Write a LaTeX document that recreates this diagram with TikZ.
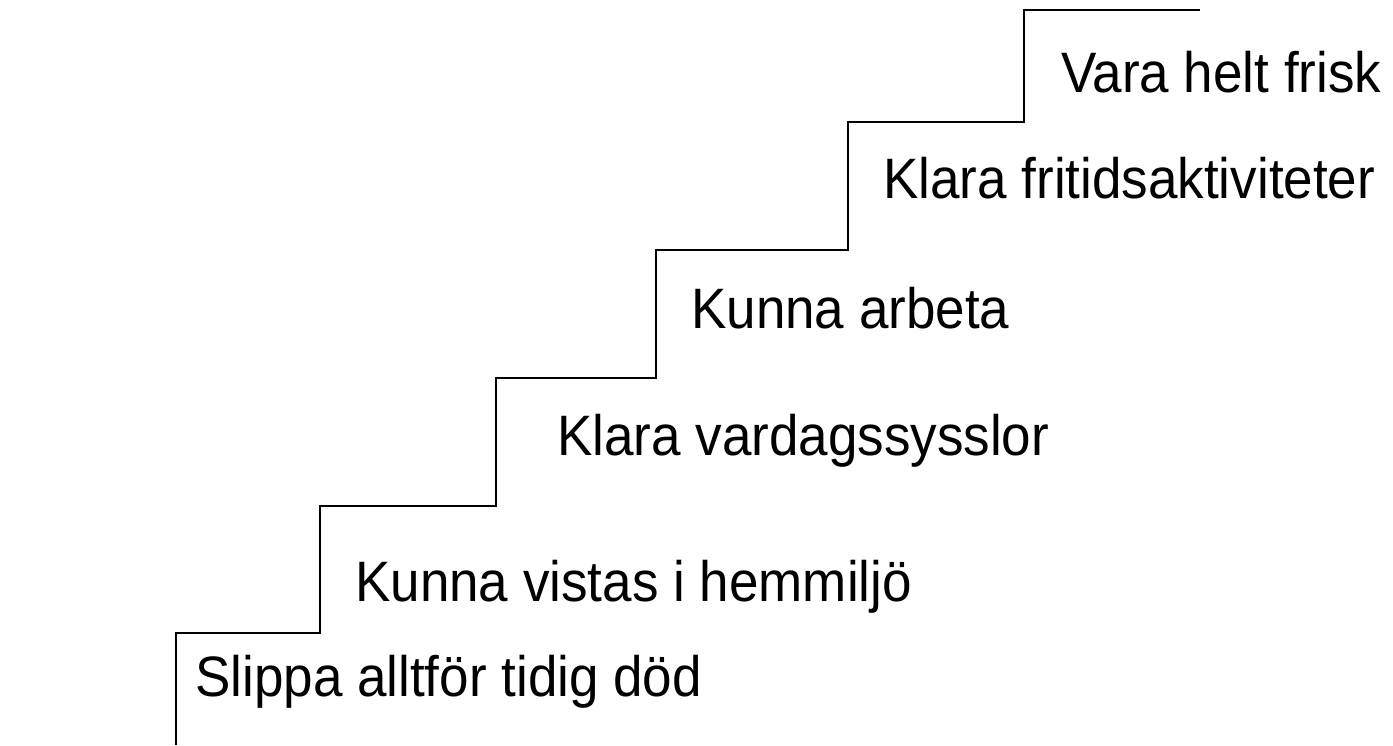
\documentclass[tikz,border=0pt]{standalone}
\usepackage{fontspec}
\usepackage{graphicx}
\setmainfont{Liberation Sans}
\newcommand{\stxt}[1]{\scalebox{0.93}[1]{#1}}
\begin{document}
\begin{tikzpicture}[x=1pt,y=-1pt,
  lbl/.style={anchor=base west,inner sep=0pt,font=\fontsize{57}{64}\selectfont},
  stair/.style={line width=2pt,line join=miter}]
\useasboundingbox (0,0) rectangle (1393,745);
\coordinate (s0) at (176,745);
\coordinate (s1) at (176,633);
\coordinate (s2) at (320,633);
\coordinate (s3) at (320,506);
\coordinate (s4) at (496,506);
\coordinate (s5) at (496,378);
\coordinate (s6) at (656,378);
\coordinate (s7) at (656,250);
\coordinate (s8) at (848,250);
\coordinate (s9) at (848,122);
\coordinate (s10) at (1024,122);
\coordinate (s11) at (1024,10);
\coordinate (s12) at (1200,10);
\draw[stair] (s0) -- (s1) -- (s2) -- (s3) -- (s4) -- (s5) -- (s6) -- (s7) -- (s8) -- (s9) -- (s10) -- (s11) -- (s12);
\node[lbl] (t1) at (195,696) {\stxt{Slippa alltför tidig död}};
\node[lbl] (t2) at (355,601) {\stxt{Kunna vistas i hemmiljö}};
\node[lbl] (t3) at (557,455) {\stxt{Klara vardagssysslor}};
\node[lbl] (t4) at (691,328) {\stxt{Kunna arbeta}};
\node[lbl] (t5) at (883,198) {\stxt{Klara fritidsaktiviteter}};
\node[lbl] (t6) at (1061,92) {\stxt{Vara helt frisk}};
\end{tikzpicture}
\end{document}
